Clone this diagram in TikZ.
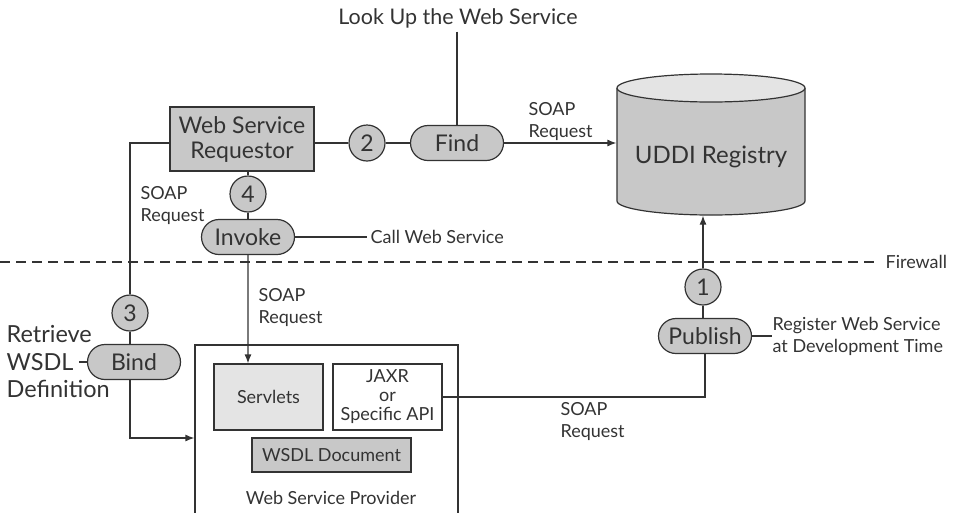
\documentclass[tikz,border=0pt]{standalone}
\usepackage{fontspec}
\setmainfont{Lato}
\usetikzlibrary{shapes.misc,arrows.meta}
\definecolor{lc}{HTML}{333333}
\definecolor{gfill}{HTML}{C8C8C8}
\definecolor{lfill}{HTML}{E4E4E4}
\begin{document}
\begin{tikzpicture}[x=1pt,y=-1pt,color=lc,
  every path/.style={line width=1.2pt},
  big/.style={font=\fontsize{23}{26}\selectfont,text=lc},
  small/.style={font=\fontsize{18}{22}\selectfont,text=lc},
  pill/.style={rounded rectangle,draw=lc,fill=gfill,line width=1.2pt,minimum width=93pt,minimum height=35pt,inner sep=0pt,big},
  numc/.style={circle,draw=lc,fill=gfill,line width=1.2pt,minimum size=36pt,inner sep=0pt,big},
  arr/.style={-{Latex[length=9pt,width=7pt]}},
  lab/.style={small,align=left,anchor=north west,inner sep=0pt}
]
\useasboundingbox (0,0) rectangle (957,512);
% title
\node[big,font=\fontsize{21.5}{24}\selectfont] (title) at (458,18) {Look Up the Web Service};
% requestor
\node[draw=lc,fill=gfill,line width=1.2pt,minimum width=144pt,minimum height=64pt,align=center,big,inner sep=0pt,font=\fontsize{23}{25}\selectfont] (req) at (242,139) {Web Service\\Requestor};
\node[numc] (c2) at (367,143) {2};
\node[pill] (find) at (457,143) {Find};
% UDDI cylinder
\draw[fill=gfill] (617,88) -- (617,201) arc[start angle=180,end angle=0,x radius=94,y radius=14] -- (805,88);
\draw[fill=lfill] (711,88) ellipse[x radius=94,y radius=14];
\node[minimum width=188pt,minimum height=141pt,inner sep=0pt] (uddi) at (711,144.5) {};
\node[big,font=\fontsize{24}{27}\selectfont] (uddit) at (711,157) {UDDI Registry};
% connections top
\draw (title.south -| find.north) -- (find.north);
\draw (req.east |- c2) -- (c2);
\draw (c2) -- (find);
\draw[arr] (find.east) -- (find.east -| uddi.west);
\node[lab] (s1) at (528,102) {SOAP\\Request};
% invoke
\node[numc] (c4) at (248,194) {4};
\node[pill] (inv) at (248,237) {Invoke};
\draw (req.south -| c4) -- (c4);
\draw (c4) -- (inv);
\coordinate (cws) at (367,237);
\draw (inv.east) -- (cws);
\node[small,anchor=west,inner sep=0pt] (cwst) at (cws) {\,Call Web Service};
\node[lab] (s2) at (140,186) {SOAP\\Request};
% firewall
\coordinate (fw1) at (0,262);
\coordinate (fw2) at (878,262);
\draw[dash pattern=on 10pt off 6pt] (fw1) -- (fw2);
\node[small,anchor=west,inner sep=0pt] (fwt) at (885,262) {Firewall};
% publish
\node[numc] (c1) at (703,287) {1};
\node[pill] (pub) at (705,336) {Publish};
\draw[arr] (c1) -- (c1 |- uddi.south);
\draw (c1) -- (c1 |- pub.north);
\coordinate (rws) at (772,336);
\draw (pub.east) -- (rws);
\node[small,anchor=west,inner sep=0pt,align=left] (rwst) at (rws) {Register Web Service\\at Development Time};
% provider
\node[draw=lc,line width=1.2pt,minimum width=263pt,minimum height=180pt,inner sep=0pt] (prov) at (326.5,435) {};
\node[small] (provt) at (331,498) {Web Service Provider};
\node[draw=lc,fill=lfill,line width=1.2pt,minimum width=109pt,minimum height=66pt,small] (serv) at (268.5,397) {Servlets};
\node[draw=lc,fill=white,line width=1.2pt,minimum width=109pt,minimum height=66pt,small,align=center,inner sep=0pt,font=\fontsize{18}{19}\selectfont] (jaxr) at (387.5,397) {JAXR\\or\\Specific API};
\node[draw=lc,fill=gfill,line width=1.2pt,minimum width=159pt,minimum height=34pt,small,inner sep=0pt] (wsdl) at (331.5,455) {WSDL Document};
\draw[arr] (inv) -- (inv |- serv.north);
\node[lab] (s3) at (258,288) {SOAP\\Request};
\draw (jaxr.east |- 0,397) -- (pub.south |- 0,397) -- (pub.south);
\node[lab] (s4) at (560,402) {SOAP\\Request};
% bind
\node[numc] (c3) at (130,313) {3};
\node[pill] (bind) at (134,362) {Bind};
\draw (req.west |- c2) -| (c3);
\draw (c3) -- (c3 |- bind.north);
\draw[arr] (c3 |- bind.south) |- (prov.west |- 0,438);
\node[big,anchor=west,align=left,inner sep=0pt,font=\fontsize{23.5}{27.5}\selectfont] (ret) at (6,362) {Retrieve\\WSDL\\Definition};
\coordinate (wend) at (79,362);
\draw (wend) -- (bind.west);
\end{tikzpicture}
\end{document}
